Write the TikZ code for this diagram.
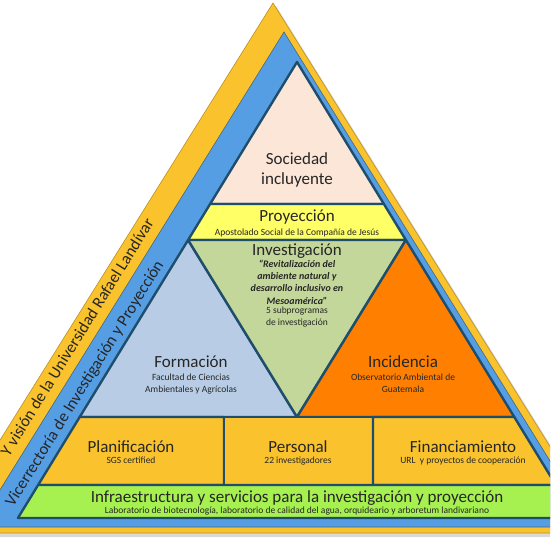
\documentclass[tikz,border=0pt]{standalone}
\usepackage{fontspec}
\setmainfont{Carlito}
\usetikzlibrary{positioning,calc}
\definecolor{goldband}{RGB}{250,195,45}
\definecolor{blueband}{RGB}{86,158,228}
\definecolor{edgeblue}{RGB}{31,78,108}
\definecolor{peach}{RGB}{252,230,216}
\definecolor{lemon}{RGB}{255,255,102}
\definecolor{sage}{RGB}{196,215,155}
\definecolor{skyfill}{RGB}{184,205,229}
\definecolor{tangerine}{RGB}{255,128,0}
\definecolor{limeband}{RGB}{166,240,80}
\definecolor{inkgray}{RGB}{38,38,38}
\tikzset{
    band/.style={draw=edgeblue, line width=2.4pt, line join=round},
    title/.style={
        inner sep=0pt, anchor=base, align=center, text=inkgray,
        font=\fontsize{17}{20}\selectfont
    },
    sub/.style={
        inner sep=0pt, align=center, text=inkgray,
        font=\fontsize{9.5}{11.8}\selectfont
    },
    quote/.style={
        inner sep=0pt, align=center, text=inkgray,
        font=\fontsize{10}{12.4}\selectfont\bfseries\itshape
    },
    side/.style={
        inner sep=0pt, rotate=58.2, text=inkgray,
        font=\fontsize{16.5}{20}\selectfont
    }
}
\begin{document}
\begin{tikzpicture}[x=1pt,y=-1pt]
\clip (0,0) rectangle (550,550);
\fill[white] (0,0) rectangle (550,550);

% Outer bands
\fill[black!15] (-54,537) -- (276,6) -- (608,537) -- cycle;
\filldraw[fill=goldband, draw=goldband!75!black, line width=0.6pt]
    (-58,533) -- (273,3) -- (604,533) -- cycle;
\filldraw[fill=blueband, draw=edgeblue!85, line width=0.6pt]
    (-23,527) -- (284,32) -- (591,527) -- cycle;

% Inner pyramid corners
\coordinate (top) at (297,62);
\coordinate (sl) at (210.1,204);  \coordinate (sr) at (383.9,204);
\coordinate (pl) at (188.1,240);  \coordinate (pr) at (405.9,240);
\coordinate (fl) at (79.7,417);   \coordinate (fr) at (514.3,417);
\coordinate (mid) at (297,417);
\coordinate (bl) at (38.1,485);   \coordinate (br) at (555.9,485);
\coordinate (gl) at (17.9,518);   \coordinate (gr) at (576.1,518);
\coordinate (d1t) at (224,417);   \coordinate (d1b) at (224,485);
\coordinate (d2t) at (373,417);   \coordinate (d2b) at (373,485);

% Pyramid blocks
\filldraw[band, fill=peach]     (top) -- (sr) -- (sl) -- cycle;
\filldraw[band, fill=lemon]     (sl) -- (sr) -- (pr) -- (pl) -- cycle;
\filldraw[band, fill=skyfill]   (pl) -- (mid) -- (fl) -- cycle;
\filldraw[band, fill=sage]      (pl) -- (pr) -- (mid) -- cycle;
\filldraw[band, fill=tangerine] (pr) -- (fr) -- (mid) -- cycle;
\filldraw[band, fill=goldband]  (fl) -- (d1t) -- (d1b) -- (bl) -- cycle;
\filldraw[band, fill=goldband]  (d1t) -- (d2t) -- (d2b) -- (d1b) -- cycle;
\filldraw[band, fill=goldband]  (d2t) -- (fr) -- (br) -- (d2b) -- cycle;
\filldraw[band, fill=limeband]  (bl) -- (br) -- (gr) -- (gl) -- cycle;

% Texts
\node[title, anchor=north] (sociedad) at (297,152) {Sociedad\\incluyente};
\node[title] (proyeccion) at (297,221) {Proyección};
\node[sub, below=8pt of proyeccion.base] (apostolado)
    {Apostolado Social de la Compañía de Jesús};
\node[title] (investigacion) at (297,255) {Investigación};
\node[quote, below=4.5pt of investigacion.base] (revitalizacion)
    {“Revitalización del\\ambiente natural y\\desarrollo inclusivo en\\Mesoamérica”};
\node[sub, below=52pt of investigacion.base] (subprogramas)
    {5 subprogramas\\de investigación};
\node[title] (formacion) at (191,367) {Formación};
\node[sub, below=7pt of formacion.base] (facultad)
    {Facultad de Ciencias\\Ambientales y Agrícolas};
\node[title] (incidencia) at (403,367) {Incidencia};
\node[sub, below=7pt of incidencia.base] (observatorio)
    {Observatorio Ambiental de\\Guatemala};
\node[title] (planificacion) at (131,452) {Planificación};
\node[sub, below=5pt of planificacion.base] (sgs) {SGS certified};
\node[title] (personal) at (298,452) {Personal};
\node[sub, below=5pt of personal.base] (investigadores) {22 investigadores};
\node[title] (financiamiento) at (463,452) {Financiamiento};
\node[sub, below=5pt of financiamiento.base] (url)
    {URL\ \ y proyectos de cooperación};
\node[title] (infraestructura) at (297,502)
    {Infraestructura y servicios para la investigación y proyección};
\node[sub, below=5pt of infraestructura.base] (laboratorio)
    {Laboratorio de biotecnología, laboratorio de calidad del agua, orquideario y arboretum landivariano};

% Side bands
\node[side] (vicerrectoria) at (85,384) {Vicerrectoría de Investigación y Proyección};
\node[side] (mision) at (77,337) {Y visión de la Universidad Rafael Landívar};
\end{tikzpicture}
\end{document}
